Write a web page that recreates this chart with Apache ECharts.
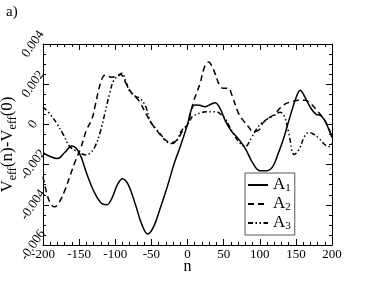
<!DOCTYPE html>
<html>
<head>
<meta charset="utf-8">
<script src="https://cdn.jsdelivr.net/npm/echarts@6/dist/echarts.min.js"></script>
<style>
  html, body { margin: 0; padding: 0; background: #fff; }
  #chart { width: 374px; height: 289px; }
</style>
</head>
<body>
<div id="chart"></div>
<script>
// n positions and V_eff(n)-V_eff(0)
const nA1 = [-200, -190, -180, -170, -160, -150, -140, -130, -120, -112, -105, -97, -90, -82, -72, -63, -55, -47, -38, -28, -18, -10, 0, 5, 10, 17, 24, 31, 38, 45, 52, 60, 70, 80, 90, 100, 110, 118, 125, 133, 142, 150, 156, 162, 170, 178, 184, 190, 195, 200]
const vA1 = [-0.0014, -0.0016, -0.0017, -0.0014, -0.00108, -0.0014, -0.0024, -0.0033, -0.0039, -0.0040, -0.0037, -0.0030, -0.0027, -0.0030, -0.0040, -0.0050, -0.00545, -0.0051, -0.0042, -0.0031, -0.0019, -0.0011, 0, 0.0007, 0.00097, 0.00095, 0.00088, 0.00098, 0.00108, 0.0008, 0.0002, -0.0003, -0.0007, -0.0012, -0.0019, -0.0023, -0.0023, -0.0021, -0.0015, -0.0007, 0.0004, 0.0013, 0.0017, 0.0014, 0.00085, 0.0005, 0.00045, 0.0002, -0.0002, -0.00065]

const nA2 = [-200, -195, -190, -184, -178, -170, -162, -155, -148, -140, -132, -128, -120, -114, -105, -98, -93, -86, -78, -70, -65, -57, -47, -38, -30, -22, -15, -8, 0, 8, 17, 24, 29, 35, 45, 50, 56, 62, 70, 77, 84, 91, 98, 105, 112, 120, 133, 146, 155, 163, 170, 179, 186, 193, 200]
const vA2 = [-0.0026, -0.0034, -0.0039, -0.0041, -0.0039, -0.0033, -0.0025, -0.0018, -0.0012, -0.0003, 0.0003, 0.0009, 0.0021, 0.00245, 0.00235, 0.0024, 0.0025, 0.0021, 0.0016, 0.0013, 0.00105, 0.0005, -0.0001, -0.0005, -0.0008, -0.0009, -0.0008, -0.0004, 0, 0.0011, 0.002, 0.0029, 0.0031, 0.0028, 0.0019, 0.0018, 0.0018, 0.0014, 0.0006, 0.0002, -0.0001, -0.00035, -0.0003, 0.0001, 0.0003, 0.0005, 0.00097, 0.00115, 0.0012, 0.0012, 0.00105, 0.0007, 0.0004, 0.0, -0.0006]

const nA3 = [-200, -190, -181, -172, -163, -155, -148, -140, -134, -128, -121, -114, -108, -102, -96, -91, -85, -80, -72, -66, -58, -52, -44, -37, -29, -22, -15, -8, 0, 7, 13, 20, 27, 34, 40, 46, 52, 58, 64, 72, 80, 88, 96, 104, 112, 120, 128, 134, 140, 148, 155, 162, 168, 175, 182, 190, 196, 200]
const vA3 = [0.00088, 0.0005, 0.00005, -0.0005, -0.0011, -0.0013, -0.00144, -0.00152, -0.0014, -0.0011, -0.0004, 0.0006, 0.0015, 0.0022, 0.0024, 0.00255, 0.0021, 0.00165, 0.0014, 0.0013, 0.0009, 0.0002, -0.0002, -0.0005, -0.00085, -0.00095, -0.0008, -0.0003, 0, 0.0004, 0.0005, 0.0006, 0.00063, 0.00063, 0.00063, 0.0005, 0.0003, -0.0001, -0.0005, -0.0009, -0.0011, -0.0007, -0.0002, 0.0001, 0.0003, 0.00045, 0.0006, 0.0004, -0.0004, -0.0015, -0.0012, -0.0006, -0.0004, -0.0005, -0.0007, -0.001, -0.0011, -0.00095]

const seriesNames = ['A1', 'A2', 'A3']
const xTicks = { min: -200, max: 200, step: 50 }
const yTicks = { min: -0.006, max: 0.004, step: 0.002 }

const font = 'Liberation Serif'

function zip(ns, vs) {
  return ns.map((n, i) => [n, vs[i]])
}

const chart = echarts.init(document.getElementById('chart'), null, { renderer: 'canvas' })

const axisBase = {
  axisLine: { show: true, onZero: false, lineStyle: { color: '#000', width: 1 } },
  axisTick: { show: true, inside: true, length: 6, lineStyle: { color: '#000' } },
  minorTick: { show: true, length: 3, lineStyle: { color: '#000' } },
  splitLine: { show: false }
}

const lineSeries = (name, data, type) => ({
  name: name,
  type: 'line',
  data: data,
  smooth: 0.4,
  symbol: 'none',
  clip: true,
  itemStyle: { color: '#000' },
  lineStyle: { color: '#000', width: 1.5, type: type }
})

chart.setOption({
  backgroundColor: '#fff',
  animation: false,
  textStyle: { fontFamily: font },
  title: {
    text: 'a)',
    left: 1,
    top: 0,
    textStyle: { fontFamily: font, fontWeight: 'normal', fontSize: 15, color: '#000' }
  },
  grid: { left: 43, top: 44, width: 289, height: 201, outerBoundsMode: 'none', containLabel: false },
  legend: {
    left: 245,
    top: 173,
    orient: 'vertical',
    itemWidth: 20,
    itemHeight: 12,
    itemGap: 1,
    padding: [3, 4, 3, 2],
    borderColor: '#555',
    borderWidth: 1,
    borderRadius: 0,
    backgroundColor: '#fff',
    data: seriesNames,
    itemStyle: { opacity: 0 },
    formatter: name => '{a|A}{s|' + name.slice(1) + '}',
    textStyle: {
      color: '#000',
      rich: {
        a: { fontFamily: font, fontSize: 17, lineHeight: 18, color: '#000' },
        s: { fontFamily: font, fontSize: 11, lineHeight: 12, color: '#000', padding: [7, 0, 0, 0] }
      }
    }
  },
  xAxis: [
    Object.assign({}, axisBase, {
      type: 'value',
      min: xTicks.min,
      max: xTicks.max,
      interval: xTicks.step,
      minorTick: Object.assign({}, axisBase.minorTick, { splitNumber: 5 }),
      axisLabel: { color: '#000', fontFamily: font, fontSize: 13, margin: 3 },
      name: 'n',
      nameLocation: 'middle',
      nameGap: 14,
      nameMoveOverlap: false,
      nameTextStyle: { color: '#000', fontFamily: font, fontSize: 16 }
    }),
    Object.assign({}, axisBase, {
      type: 'value',
      position: 'top',
      min: xTicks.min,
      max: xTicks.max,
      interval: xTicks.step,
      minorTick: Object.assign({}, axisBase.minorTick, { splitNumber: 5 }),
      axisLabel: { show: false }
    })
  ],
  yAxis: [
    Object.assign({}, axisBase, {
      type: 'value',
      min: yTicks.min,
      max: yTicks.max,
      interval: yTicks.step,
      minorTick: Object.assign({}, axisBase.minorTick, { splitNumber: 4 }),
      axisLabel: {
        color: '#000',
        fontFamily: font,
        fontSize: 13,
        rotate: 55,
        align: 'center',
        verticalAlign: 'middle',
        margin: 10,
        formatter: v => Math.abs(v) < 1e-9 ? '0' : v.toFixed(3)
      },
      name: '{v|V}{s|eff}{v|(n)-V}{s|eff}{v|(0)}',
      nameLocation: 'middle',
      nameRotate: 90,
      nameGap: 24,
      nameMoveOverlap: false,
      nameTextStyle: {
        color: '#000',
        rich: {
          v: { fontFamily: font, fontSize: 17, color: '#000' },
          s: { fontFamily: font, fontSize: 12, color: '#000', padding: [10, 0, 0, 0] }
        }
      }
    }),
    Object.assign({}, axisBase, {
      type: 'value',
      position: 'right',
      min: yTicks.min,
      max: yTicks.max,
      interval: yTicks.step,
      minorTick: Object.assign({}, axisBase.minorTick, { splitNumber: 4 }),
      axisLabel: { show: false }
    })
  ],
  series: [
    lineSeries(seriesNames[0], zip(nA1, vA1), 'solid'),
    lineSeries(seriesNames[1], zip(nA2, vA2), [6, 4]),
    lineSeries(seriesNames[2], zip(nA3, vA3), [5, 2.5, 1.5, 2.5, 1.5, 2.5])
  ]
})
</script>
</body>
</html>
